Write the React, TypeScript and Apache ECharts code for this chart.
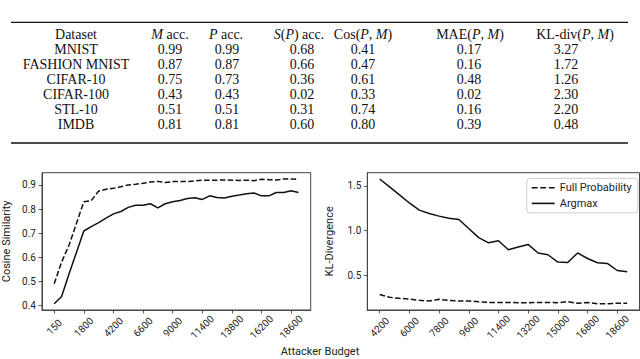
import React, { useEffect, useRef } from "react";
import * as echarts from "echarts";

// ---------- Table data ----------
const tableHeaders = [
  "Dataset",
  "{i|M} acc.",
  "{i|P} acc.",
  "{i|S}({i|P}) acc.",
  "Cos({i|P}, {i|M})",
  "MAE({i|P}, {i|M})",
  "KL-div({i|P}, {i|M})",
];
const datasets = ["MNIST", "FASHION MNIST", "CIFAR-10", "CIFAR-100", "STL-10", "IMDB"];
const mAcc = ["0.99", "0.87", "0.75", "0.43", "0.51", "0.81"];
const pAcc = ["0.99", "0.87", "0.73", "0.43", "0.51", "0.81"];
const spAcc = ["0.68", "0.66", "0.36", "0.02", "0.31", "0.60"];
const cosPM = ["0.41", "0.47", "0.61", "0.33", "0.74", "0.80"];
const maePM = ["0.17", "0.16", "0.48", "0.02", "0.16", "0.39"];
const klPM = ["3.27", "1.72", "1.26", "2.30", "2.20", "0.48"];

// ---------- Left chart (Cosine Similarity) ----------
const leftBudgets = [
  "150", "300", "600", "1200", "1800", "2400", "3000", "3600", "4200", "4800",
  "5400", "6000", "6600", "7200", "7800", "8400", "9000", "9600", "10200", "10800",
  "11400", "12000", "12600", "13200", "13800", "14400", "15000", "15600", "16200", "16800",
  "17400", "18000", "18600", "19200",
];
const leftTickIdx = [0, 4, 8, 12, 16, 20, 24, 28, 32];
const cosFull = [
  0.49, 0.58, 0.65, 0.74, 0.83, 0.835, 0.875, 0.882, 0.886, 0.893,
  0.9, 0.903, 0.907, 0.912, 0.915, 0.91, 0.914, 0.915, 0.914, 0.917,
  0.92, 0.92, 0.92, 0.921, 0.92, 0.919, 0.92, 0.918, 0.924, 0.922,
  0.921, 0.925, 0.925, 0.923,
];
const cosArg = [
  0.407, 0.437, 0.53, 0.62, 0.709, 0.727, 0.744, 0.762, 0.78, 0.79,
  0.807, 0.816, 0.816, 0.822, 0.805, 0.822, 0.83, 0.836, 0.844, 0.847,
  0.84, 0.855, 0.848, 0.846, 0.853, 0.858, 0.864, 0.867, 0.855, 0.855,
  0.869, 0.869, 0.876, 0.869,
];
const leftYTicks = [0.4, 0.5, 0.6, 0.7, 0.8, 0.9];

// ---------- Right chart (KL-Divergence) ----------
const rightBudgets = [
  "4200", "4800", "5400", "6000", "6600", "7200", "7800", "8400", "9000", "9600",
  "10200", "10800", "11400", "12000", "12600", "13200", "13800", "14400", "15000", "15600",
  "16200", "16800", "17400", "18000", "18600", "19200",
];
const rightTickIdx = [0, 3, 6, 9, 12, 15, 18, 21, 24];
const klFull = [
  0.287, 0.257, 0.245, 0.238, 0.223, 0.215, 0.234, 0.223, 0.215, 0.215,
  0.208, 0.2, 0.2, 0.2, 0.197, 0.197, 0.2, 0.2, 0.197, 0.208,
  0.19, 0.2, 0.185, 0.185, 0.19, 0.19,
];
const klArg = [
  1.578, 1.49, 1.4, 1.31, 1.23, 1.193, 1.163, 1.14, 1.125, 1.025,
  0.923, 0.865, 0.888, 0.788, 0.818, 0.847, 0.751, 0.732, 0.65, 0.646,
  0.752, 0.69, 0.642, 0.635, 0.556, 0.541,
];
const rightYTicks = [0.5, 1.0, 1.5];

const seriesNames = ["Full Probability", "Argmax"];

const SANS = "Roboto, 'Noto Sans', sans-serif";
const SERIF = "'Liberation Serif', 'DejaVu Serif', serif";

const DASH_ICON = "path://M0,0H5.5V1.5H0Z M7.9,0H13.4V1.5H7.9Z M15.8,0H21.3V1.5H15.8Z";
const SOLID_ICON = "path://M0,0H23V1.5H0Z";

export default function App() {
  const ref = useRef<HTMLDivElement>(null);

  useEffect(() => {
    if (!ref.current) return;
    const chart = echarts.init(ref.current, undefined, { renderer: "svg" });

    const headerX = [76, 170, 226, 299, 363, 470, 575];
    const valueX = [76, 170, 227, 302, 363, 469, 566];
    const headerY = 34.5;
    const rowY0 = 49.3;
    const rowStep = 14.95;
    const cols = [datasets, mAcc, pAcc, spAcc, cosPM, maePM, klPM];

    const tableEls: any[] = [];
    tableHeaders.forEach((h, c) => {
      tableEls.push({
        type: "text",
        x: headerX[c],
        y: headerY,
        style: {
          text: h,
          fontFamily: SERIF,
          fontSize: 14,
          fill: "#111",
          align: "center",
          verticalAlign: "middle",
          rich: { i: { fontStyle: "italic", fontFamily: SERIF, fontSize: 14, fill: "#111" } },
        },
      });
    });
    cols.forEach((col, c) => {
      col.forEach((v, r) => {
        tableEls.push({
          type: "text",
          x: valueX[c],
          y: rowY0 + r * rowStep,
          style: {
            text: v,
            fontFamily: SERIF,
            fontSize: 14,
            fill: "#111",
            align: "center",
            verticalAlign: "middle",
          },
        });
      });
    });
    tableEls.push({
      type: "line",
      shape: { x1: 11, y1: 22.3, x2: 628, y2: 22.3 },
      style: { stroke: "#111", lineWidth: 1.3 },
    });
    tableEls.push({
      type: "line",
      shape: { x1: 11, y1: 143, x2: 628, y2: 143 },
      style: { stroke: "#111", lineWidth: 1.3 },
    });
    tableEls.push({
      type: "text",
      x: 320,
      y: 351,
      style: {
        text: "Attacker Budget",
        fontFamily: SANS,
        fontSize: 11,
        fill: "#222",
        align: "center",
        verticalAlign: "middle",
      },
    });

    const xAxisCommon = (cats: string[], ticks: number[], min: number, max: number, gi: number) => ({
      type: "value",
      gridIndex: gi,
      position: "bottom",
      min,
      max,
      axisLine: { show: true, onZero: false, lineStyle: { color: "#444", width: 1 } },
      splitLine: { show: false },
      axisTick: {
        show: true,
        inside: false,
        length: 3.5,
        lineStyle: { color: "#333", width: 0.8 },
        customValues: ticks,
      },
      axisLabel: {
        customValues: ticks,
        rotate: 45,
        align: "center",
        verticalAlign: "middle",
        margin: 17,
        fontFamily: SANS,
        fontSize: 10,
        color: "#222",
        formatter: (v: number) => cats[Math.round(v)] ?? "",
      },
    });

    const yAxisCommon = (ticks: number[], min: number, max: number, gi: number, name: string, gap: number) => ({
      type: "value",
      gridIndex: gi,
      position: "left",
      min,
      max,
      name,
      nameLocation: "middle",
      nameGap: gap,
      nameTextStyle: { fontFamily: SANS, fontSize: 11, color: "#222" },
      axisLine: { show: true, onZero: false, lineStyle: { color: "#444", width: 1 } },
      splitLine: { show: false },
      axisTick: {
        show: true,
        inside: false,
        length: 3.5,
        lineStyle: { color: "#333", width: 0.8 },
        customValues: ticks,
      },
      axisLabel: {
        customValues: ticks,
        inside: false,
        margin: 6,
        fontFamily: SANS,
        fontSize: 10,
        color: "#222",
        formatter: (v: number) => v.toFixed(1),
      },
    });

    const lineSeries = (name: string, xi: number, data: number[], dashed: boolean) => ({
      type: "line",
      name,
      xAxisIndex: xi,
      yAxisIndex: xi,
      data: data.map((v, i) => [i, v]),
      symbol: "none",
      lineStyle: { color: "#111", width: 1.5, type: dashed ? [5.5, 2.4] : "solid" },
      itemStyle: { color: "#111" },
      z: 3,
    });

    const option: any = {
      animation: false,
      backgroundColor: "#fff",
      grid: [
        { left: 37.7, top: 172.7, width: 273, height: 137.3, show: true, borderColor: "#444", borderWidth: 1, backgroundColor: "transparent" },
        { left: 367.3, top: 172.7, width: 272.2, height: 137.3, show: true, borderColor: "#444", borderWidth: 1, backgroundColor: "transparent" },
      ],
      xAxis: [
        xAxisCommon(leftBudgets, leftTickIdx, -1.65, 34.65, 0),
        xAxisCommon(rightBudgets, rightTickIdx, -1.25, 26.25, 1),
      ],
      yAxis: [
        yAxisCommon(leftYTicks, 0.381, 0.951, 0, "Cosine Similarity", 30),
        yAxisCommon(rightYTicks, 0.115, 1.648, 1, "KL-Divergence", 32),
      ],
      legend: {
        data: [
          { name: seriesNames[0], icon: DASH_ICON },
          { name: seriesNames[1], icon: SOLID_ICON },
        ],
        orient: "vertical",
        left: 526.7,
        top: 178.3,
        padding: [3, 6, 3, 5],
        itemWidth: 23,
        itemHeight: 1.6,
        itemGap: 2.6,
        symbolKeepAspect: false,
        itemStyle: { color: "#111", borderWidth: 0 },
        borderColor: "#ccc",
        borderWidth: 1,
        borderRadius: 3,
        backgroundColor: "rgba(255,255,255,0.8)",
        textStyle: { fontFamily: SANS, fontSize: 11, color: "#222", lineHeight: 13 },
        selectedMode: false,
      },
      series: [
        lineSeries(seriesNames[0], 0, cosFull, true),
        lineSeries(seriesNames[1], 0, cosArg, false),
        lineSeries(seriesNames[0], 1, klFull, true),
        lineSeries(seriesNames[1], 1, klArg, false),
      ],
      graphic: tableEls,
    };

    chart.setOption(option);
    return () => chart.dispose();
  }, []);

  return (
    <div
      ref={ref}
      style={{ position: "fixed", left: 0, top: 0, width: 640, height: 359, background: "#fff" }}
    />
  );
}
